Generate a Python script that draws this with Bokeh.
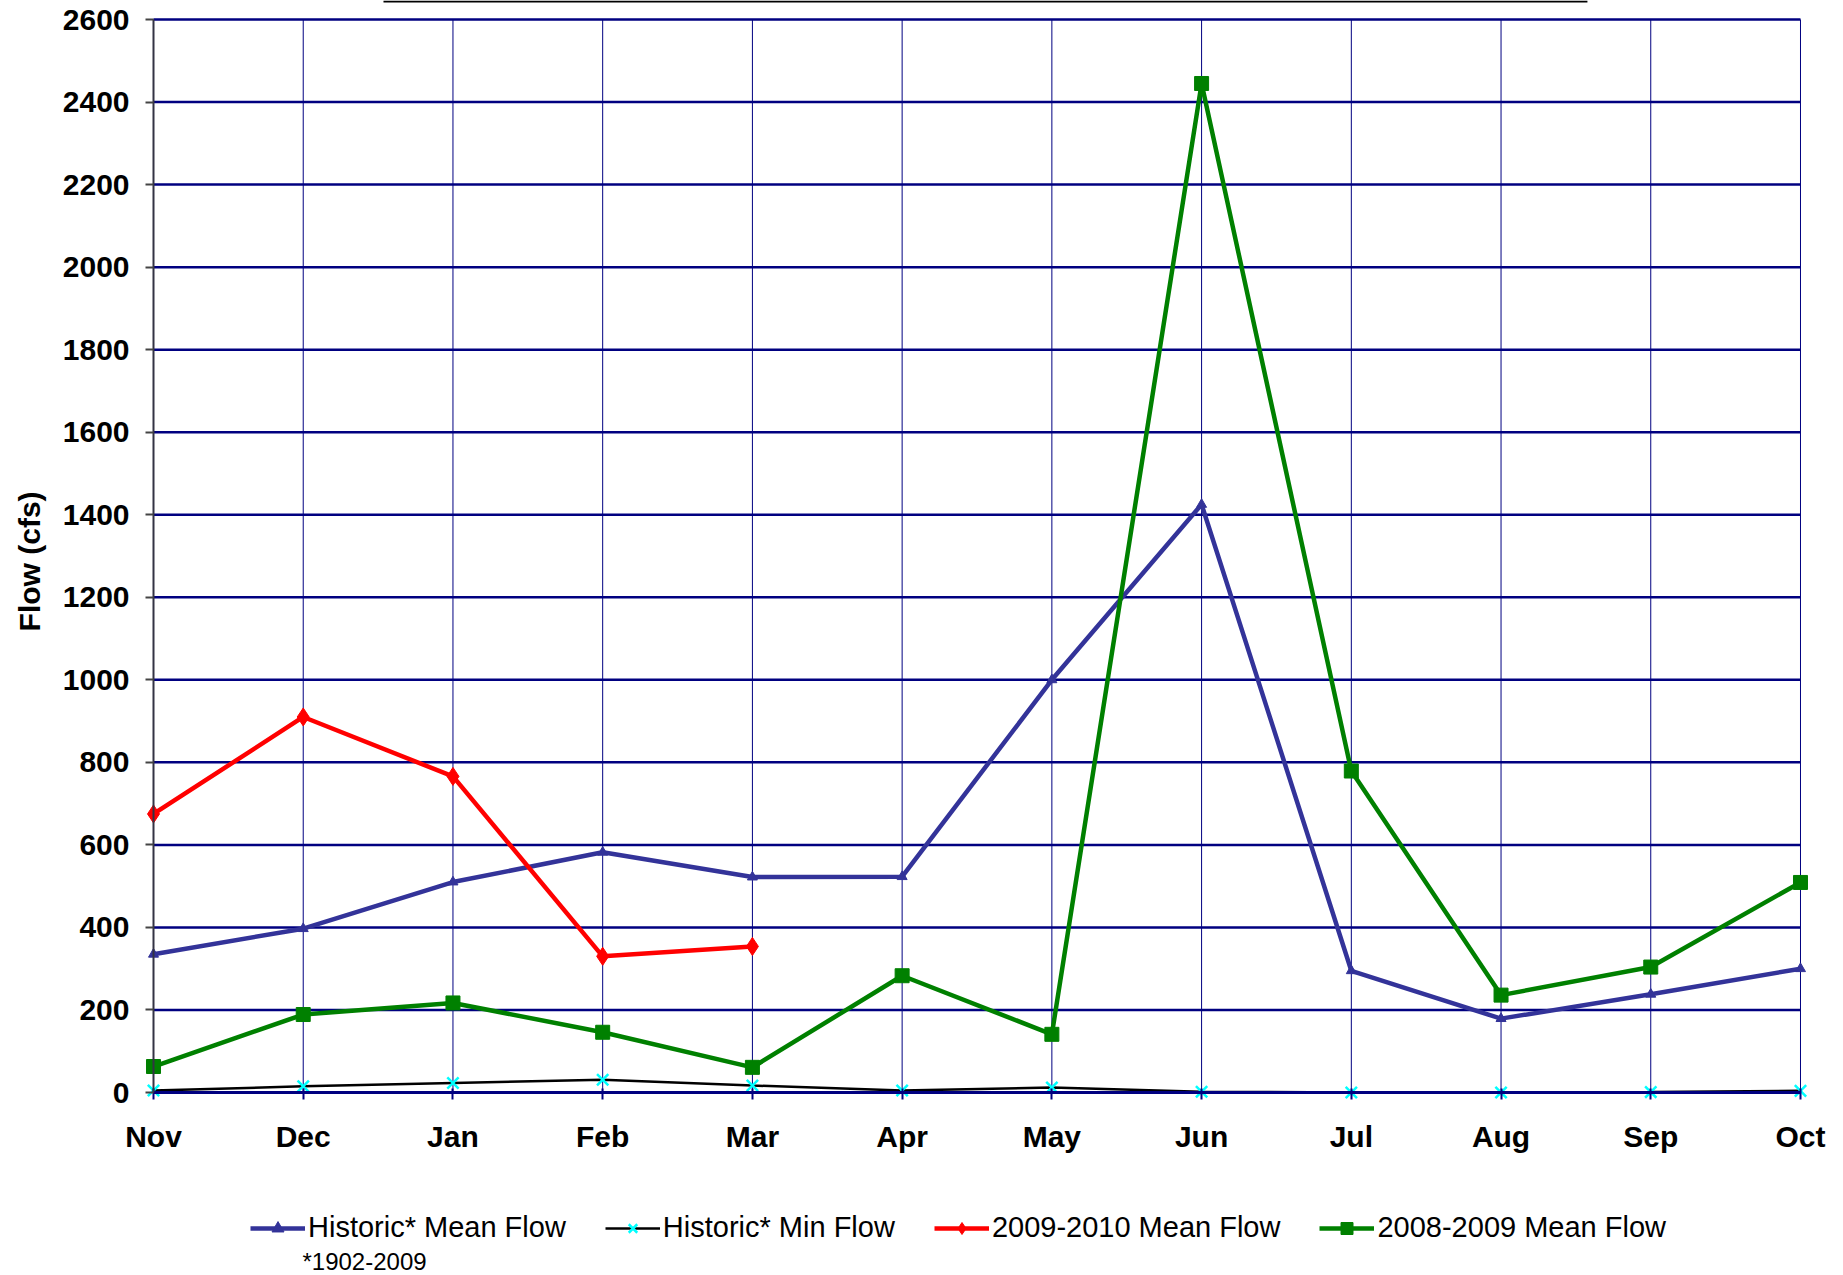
import math
from bokeh.plotting import figure
from bokeh.models import (Range1d, FixedTicker, Legend, LegendItem, Label, BoxAnnotation)
from bokeh.embed import file_html
from bokeh.resources import INLINE

months = ["Nov", "Dec", "Jan", "Feb", "Mar", "Apr", "May", "Jun", "Jul", "Aug", "Sep", "Oct"]
hist_mean = [335, 397, 510, 582, 522, 523, 1000, 1425, 295, 179, 238, 300]
hist_min = [5, 15, 23, 31, 17, 5, 12, 2, 0, 0, 1, 4]
flow_0910 = [675, 910, 766, 330, 354]
flow_0809 = [63, 189, 217, 146, 61, 283, 141, 2445, 779, 236, 304, 509]
y_ticks = list(range(0, 2601, 200))
y_title = "Flow (cfs)"
footnote = "*1902-2009"

x_all = list(range(len(months)))
x_0910 = x_all[:len(flow_0910)]
x_last = x_all[-1]
y_top = y_ticks[-1]

FONT = "Liberation Sans"
NAVY = "#000080"

# The frame covers the whole canvas; the plot area (0..11, 0..2600) sits
# inside it at the reference's place, axes are fixed at 0.
p = figure(output_backend="svg", toolbar_location=None,
           x_range=Range1d(-1.0219, 11.2405), y_range=Range1d(-443.4, 2646.1),
           min_border_left=0, min_border_right=0, min_border_top=0,
           min_border_bottom=0, title=None)
p.frame_width = 1836
p.frame_height = 1275
p.outline_line_color = None
p.background_fill_color = "white"
p.border_fill_color = "white"

p.xaxis.fixed_location = 0
p.xaxis.bounds = (0, x_last)
p.xaxis.ticker = FixedTicker(ticks=x_all)
p.xaxis.major_label_overrides = {i: m for i, m in enumerate(months)}
p.yaxis.fixed_location = 0
p.yaxis.bounds = (0, y_top)
p.yaxis.ticker = FixedTicker(ticks=y_ticks)
for ax in (p.xaxis[0], p.yaxis[0]):
    ax.major_label_text_font = FONT
    ax.major_label_text_font_style = "bold"
    ax.major_label_text_font_size = "30px"
    ax.major_label_text_color = "black"
    ax.minor_tick_line_color = None
p.xaxis.axis_line_color = NAVY
p.xaxis.axis_line_width = 3
p.xaxis.major_tick_line_color = NAVY
p.xaxis.major_tick_line_width = 2
p.xaxis.major_tick_in = 4
p.xaxis.major_tick_out = 7
p.xaxis.major_label_standoff = 20
p.yaxis.axis_line_color = "#333344"
p.yaxis.axis_line_width = 2
p.yaxis.major_tick_line_color = "#444444"
p.yaxis.major_tick_line_width = 2
p.yaxis.major_tick_in = 0
p.yaxis.major_tick_out = 8
p.yaxis.major_label_standoff = 16

p.add_layout(Label(x=-0.828, y=1287, text=y_title, angle=math.pi / 2,
                   text_font=FONT, text_font_style="bold", text_font_size="30px",
                   text_color="black", text_align="center", text_baseline="middle"))

# grid lines limited to the plot area
p.xgrid.visible = False
p.ygrid.visible = False
p.segment(x0=[0] * len(y_ticks), y0=y_ticks, x1=[x_last] * len(y_ticks), y1=y_ticks,
          line_color=NAVY, line_width=2.5)
p.segment(x0=x_all, y0=[0] * len(x_all), x1=x_all, y1=[y_top] * len(x_all),
          line_color=NAVY, line_width=1)

# series
r_mean_l = p.line(x_all, hist_mean, line_color="#333399", line_width=4.5)
r_mean_m = p.scatter(x_all, hist_mean, marker="triangle", size=10, color="#333399")
r_min_l = p.line(x_all, hist_min, line_color="black", line_width=2.5)
r_min_m = p.scatter(x_all, hist_min, marker="x", size=16, line_color="#00FFFF", line_width=2.5)
r_09_l = p.line(x_0910, flow_0910, line_color="#FF0000", line_width=4.5)
r_09_m = p.scatter(x_0910, flow_0910, marker="diamond", size=18, color="#FF0000")
r_08_l = p.line(x_all, flow_0809, line_color="#008000", line_width=4.5)
r_08_m = p.scatter(x_all, flow_0809, marker="square", size=14, color="#008000")

legend = Legend(items=[
    LegendItem(label="Historic* Mean Flow", renderers=[r_mean_l, r_mean_m]),
    LegendItem(label="Historic* Min Flow", renderers=[r_min_l, r_min_m]),
    LegendItem(label="2009-2010 Mean Flow", renderers=[r_09_l, r_09_m]),
    LegendItem(label="2008-2009 Mean Flow", renderers=[r_08_l, r_08_m]),
], orientation="horizontal", location=(250, 31))
legend.label_text_font = FONT
legend.label_text_font_size = "29px"
legend.label_text_color = "black"
legend.glyph_width = 55
legend.glyph_height = 30
legend.label_standoff = 3
legend.spacing = 39
legend.border_line_color = None
legend.background_fill_alpha = 0
legend.margin = 0
legend.padding = 0
p.add_layout(legend, "center")

p.add_layout(Label(x=0.995, y=-409.5, text=footnote, text_font=FONT,
                   text_font_size="24px", text_color="black",
                   text_align="left", text_baseline="middle"))

# remnant of a title box border at the very top
p.add_layout(BoxAnnotation(left=1.536, right=9.577, top=2646.1, bottom=2641.2,
                           fill_color="black", fill_alpha=1, line_color=None))

open("out.html", "w").write(file_html(p, INLINE))
